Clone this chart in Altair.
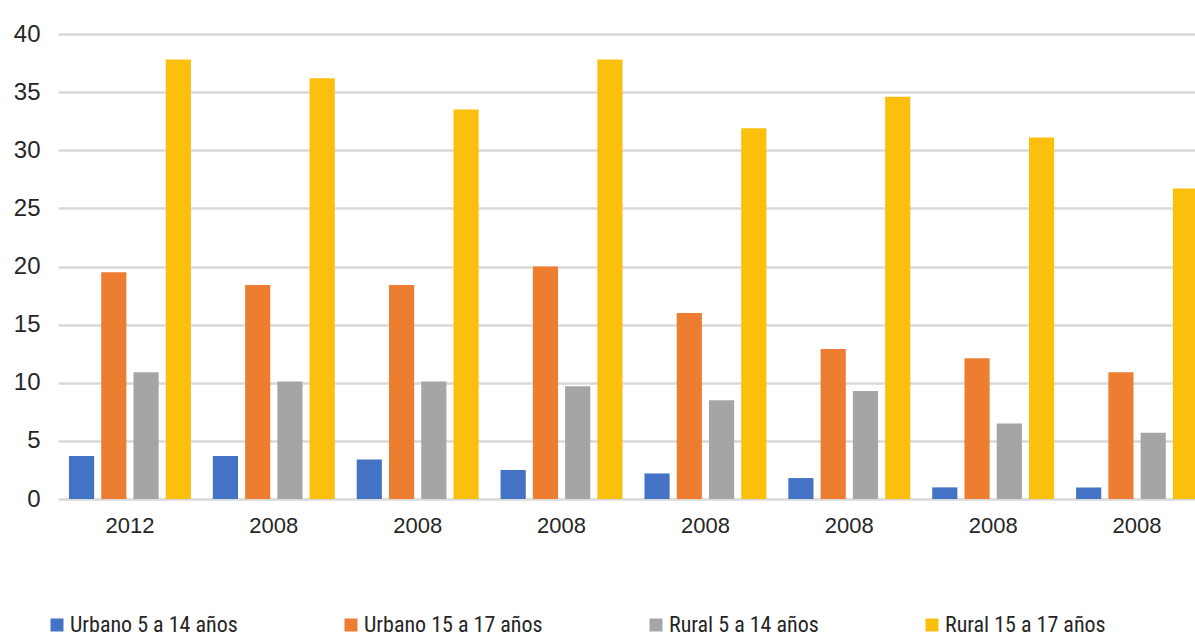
import altair as alt
import pandas as pd

group_labels = ["2012", "2008", "2008", "2008", "2008", "2008", "2008", "2008"]
series_names = ["Urbano 5 a 14 años", "Urbano 15 a 17 años", "Rural 5 a 14 años", "Rural 15 a 17 años"]
urbano_5_14 = [3.7, 3.7, 3.4, 2.5, 2.2, 1.8, 1.0, 1.0]
urbano_15_17 = [19.5, 18.4, 18.4, 20.0, 16.0, 12.9, 12.1, 10.9]
rural_5_14 = [10.9, 10.1, 10.1, 9.7, 8.5, 9.3, 6.5, 5.7]
rural_15_17 = [37.8, 36.2, 33.5, 37.8, 31.9, 34.6, 31.1, 26.7]
colors = ["#4472C4", "#ED7D31", "#A5A5A5", "#FBC00E"]

values = [urbano_5_14, urbano_15_17, rural_5_14, rural_15_17]
rows = []
for gi, lab in enumerate(group_labels):
    for si, name in enumerate(series_names):
        rows.append({"g": f"G{gi}", "serie": name, "valor": values[si][gi]})
df = pd.DataFrame(rows)

keys = [f"G{i}" for i in range(len(group_labels))]
label_map = "{" + ",".join(f"'{k}':'{v}'" for k, v in zip(keys, group_labels)) + "}"

FONT = "Liberation Sans"
NARROW = "Liberation Sans Narrow, Roboto Condensed, DejaVu Sans Condensed, sans-serif"

chart = alt.Chart(df).mark_bar().encode(
    x=alt.X("g:N", sort=keys, title=None,
            scale=alt.Scale(paddingInner=0, paddingOuter=0, range=[0, 1151]),
            axis=alt.Axis(labelExpr=f"{label_map}[datum.value]", labelAngle=0,
                          labelFontSize=22, labelFont=FONT, labelColor="#262626",
                          labelPadding=16, ticks=False, domain=False, grid=False)),
    xOffset=alt.XOffset("serie:N", sort=series_names,
                        scale=alt.Scale(paddingInner=0.22, paddingOuter=0.34)),
    y=alt.Y("valor:Q", title=None,
            scale=alt.Scale(domain=[0, 40], nice=False),
            axis=alt.Axis(values=[0, 5, 10, 15, 20, 25, 30, 35, 40],
                          labelFontSize=24, labelFont=FONT, labelColor="#262626",
                          labelPadding=18, ticks=False, domain=False,
                          grid=True, gridColor="#D9D9D9", gridWidth=2.5)),
    color=alt.Color("serie:N", sort=series_names,
                    scale=alt.Scale(domain=series_names, range=colors),
                    legend=alt.Legend(title=None, orient="none", direction="horizontal",
                                      columns=4, legendX=-12, legendY=580,
                                      symbolType="square", symbolSize=169,
                                      symbolStrokeWidth=0, symbolOffset=0,
                                      labelFont=NARROW, labelFontSize=22,
                                      labelColor="#262626", labelOffset=2,
                                      columnPadding=102, labelLimit=400)),
).properties(
    width=1137, height=465,
    autosize=alt.AutoSizeParams(type="none"),
    padding={"left": 58, "top": 34, "right": 0, "bottom": 139},
).configure_view(stroke=None)

chart.save("out.html", embed_options={"renderer": "svg", "actions": False})
